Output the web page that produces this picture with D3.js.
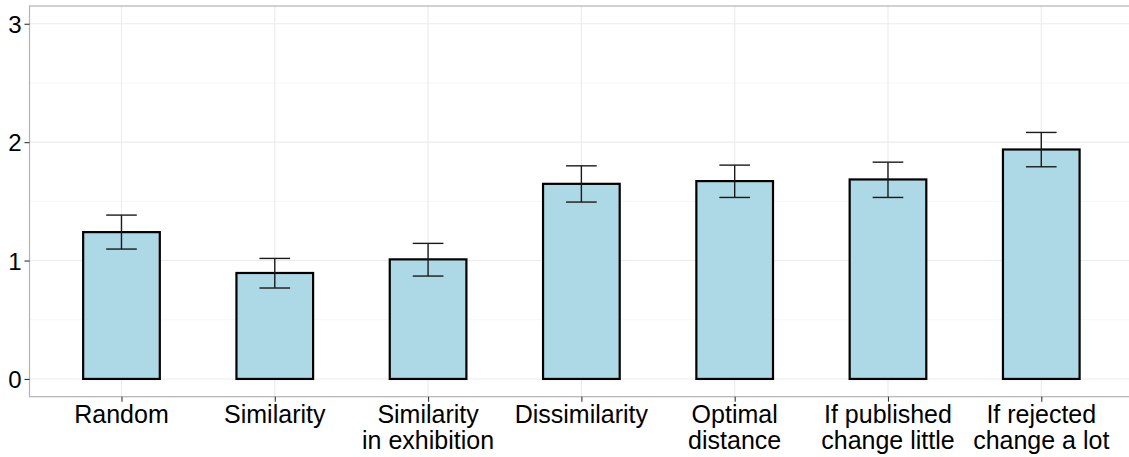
<!DOCTYPE html>
<html>
<head>
<meta charset="utf-8">
<script src="https://cdn.jsdelivr.net/npm/d3@7"></script>
<style>
  body { margin: 0; background: #fff; }
  text { font-family: "Liberation Sans", Arial, sans-serif; }
</style>
</head>
<body>
<div id="chart"></div>
<script>
// data
var categories = ["Random", "Similarity", "Similarity\nin exhibition", "Dissimilarity",
                  "Optimal\ndistance", "If published\nchange little", "If rejected\nchange a lot"];
var means = [1.24, 0.895, 1.01, 1.648, 1.671, 1.685, 1.938];
var lower = [1.097, 0.768, 0.869, 1.494, 1.533, 1.533, 1.792];
var upper = [1.384, 1.018, 1.145, 1.800, 1.806, 1.831, 2.082];
var yTicks = [0, 1, 2, 3];
var yMinor = [0.5, 1.5, 2.5];

var W = 1129, H = 457;
var margin = {top: 6, left: 29.5, bottom: 60};
var panelBottom = H - margin.bottom - 0.3;

var svg = d3.select("#chart")
    .append("svg")
    .attr("width", W)
    .attr("height", H);

// 7 categories, 0.6 expansion each side like ggplot discrete
var step = 153.3;
var xScale = d3.scalePoint()
    .domain(categories)
    .range([margin.left + 0.6 * step, margin.left + 0.6 * step + 6 * step]);
var yScale = d3.scaleLinear()
    .domain([-0.15, 3.15])
    .range([panelBottom, margin.top]);

var panelRight = margin.left + 7.2 * step;

// minor grid
svg.selectAll(".minor")
    .data(yMinor)
    .enter()
    .append("line")
    .attr("x1", margin.left).attr("x2", panelRight)
    .attr("y1", function(d) { return yScale(d); })
    .attr("y2", function(d) { return yScale(d); })
    .attr("stroke", "#f4f4f4")
    .attr("stroke-width", 0.8);

// major grid
svg.selectAll(".hgrid")
    .data(yTicks)
    .enter()
    .append("line")
    .attr("x1", margin.left).attr("x2", panelRight)
    .attr("y1", function(d) { return yScale(d); })
    .attr("y2", function(d) { return yScale(d); })
    .attr("stroke", "#ebebeb")
    .attr("stroke-width", 1.1);
svg.selectAll(".vgrid")
    .data(categories)
    .enter()
    .append("line")
    .attr("x1", function(d) { return xScale(d); })
    .attr("x2", function(d) { return xScale(d); })
    .attr("y1", margin.top).attr("y2", panelBottom)
    .attr("stroke", "#ebebeb")
    .attr("stroke-width", 1.1);

// bars
var barW = 0.5 * step;
svg.selectAll(".bar")
    .data(means)
    .enter()
    .append("rect")
    .attr("x", function(d, i) { return xScale(categories[i]) - barW / 2; })
    .attr("y", function(d) { return yScale(d); })
    .attr("width", barW)
    .attr("height", function(d) { return yScale(0) - yScale(d); })
    .attr("fill", "#add8e6")
    .attr("stroke", "#000")
    .attr("stroke-width", 2.2);

// error bars
var capW = 0.2 * step;
var eb = svg.selectAll(".err")
    .data(means)
    .enter()
    .append("g")
    .attr("stroke", "#1a1a1a")
    .attr("stroke-width", 1.4);
eb.append("line")
    .attr("x1", function(d, i) { return xScale(categories[i]); })
    .attr("x2", function(d, i) { return xScale(categories[i]); })
    .attr("y1", function(d, i) { return yScale(lower[i]); })
    .attr("y2", function(d, i) { return yScale(upper[i]); });
eb.append("line")
    .attr("x1", function(d, i) { return xScale(categories[i]) - capW / 2; })
    .attr("x2", function(d, i) { return xScale(categories[i]) + capW / 2; })
    .attr("y1", function(d, i) { return yScale(lower[i]); })
    .attr("y2", function(d, i) { return yScale(lower[i]); });
eb.append("line")
    .attr("x1", function(d, i) { return xScale(categories[i]) - capW / 2; })
    .attr("x2", function(d, i) { return xScale(categories[i]) + capW / 2; })
    .attr("y1", function(d, i) { return yScale(upper[i]); })
    .attr("y2", function(d, i) { return yScale(upper[i]); });

// panel border
svg.append("rect")
    .attr("x", margin.left).attr("y", margin.top)
    .attr("width", panelRight - margin.left)
    .attr("height", panelBottom - margin.top)
    .attr("fill", "none")
    .attr("stroke", "#b3b3b3")
    .attr("stroke-width", 1.2);

// Y axis
var yAxis = d3.axisLeft(yScale)
    .tickValues(yTicks)
    .tickSize(5)
    .tickPadding(3)
    .tickFormat(d3.format("d"));
var gy = svg.append("g")
    .attr("transform", "translate(" + margin.left + ",0)")
    .call(yAxis);
gy.select(".domain").remove();
gy.selectAll(".tick line").attr("stroke", "#333").attr("stroke-width", 1.1);
gy.selectAll(".tick text")
    .attr("fill", "#000")
    .style("font-size", "24px")
    .attr("dy", "0.36em");

// X axis
var xAxis = d3.axisBottom(xScale)
    .tickSize(5)
    .tickFormat("");
var gx = svg.append("g")
    .attr("transform", "translate(0," + panelBottom + ")")
    .call(xAxis);
gx.select(".domain").remove();
gx.selectAll(".tick line").attr("stroke", "#333").attr("stroke-width", 1.1);

// multi-line x labels
svg.selectAll(".xlab")
    .data(categories)
    .enter()
    .append("text")
    .attr("text-anchor", "middle")
    .style("font-size", "25px")
    .attr("fill", "#000")
    .each(function(d) {
        var lines = d.split("\n");
        var t = d3.select(this);
        lines.forEach(function(l, j) {
            t.append("tspan")
                .attr("x", xScale(d))
                .attr("y", 422.7 + j * 26.5)
                .text(l);
        });
    });
</script>
</body>
</html>
